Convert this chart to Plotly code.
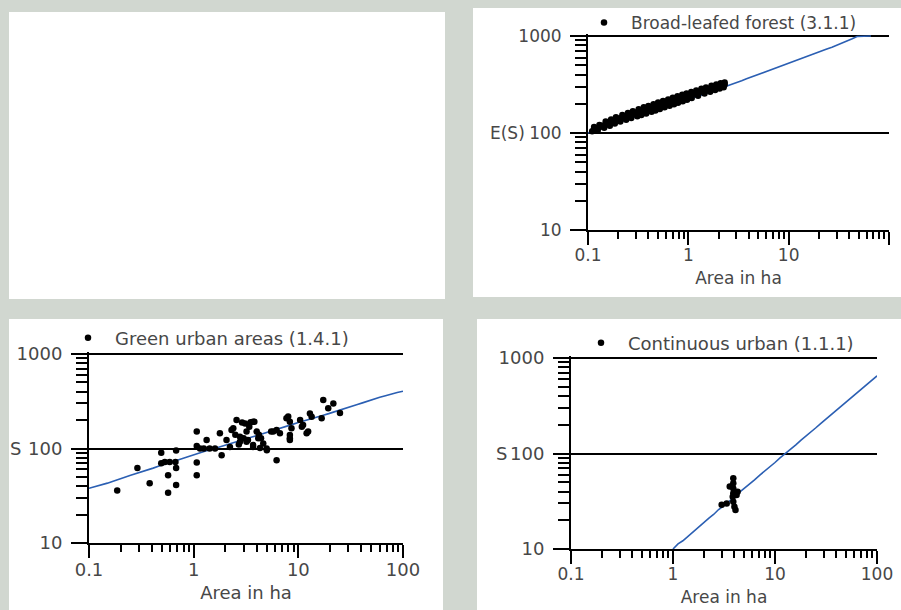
import plotly.graph_objects as go

# ---------------- data ----------------
x_tickvals = [0.1, 1, 10, 100]
x_ticktext = ["0.1", "1", "10", "100"]
y_tickvals = [10, 100, 1000]
y_ticktext = ["10", "100", "1000"]

forest_name = "Broad-leafed forest (3.1.1)"
forest_x = [0.11, 0.115, 0.12, 0.13, 0.135, 0.14, 0.15, 0.16, 0.17, 0.18, 0.19, 0.2,
            0.21, 0.22, 0.23, 0.24, 0.25, 0.26, 0.27, 0.28, 0.3, 0.32, 0.33, 0.35,
            0.37, 0.4, 0.42, 0.45, 0.48, 0.5, 0.53, 0.56, 0.6, 0.63, 0.66, 0.7,
            0.73, 0.77, 0.8, 0.85, 0.9, 0.95, 1.0, 1.05, 1.1, 1.15, 1.2, 1.3,
            1.4, 1.5, 1.6, 1.7, 1.8, 1.9, 2.0, 2.1, 2.2, 2.3,
            0.125, 0.145, 0.165, 0.185, 0.21, 0.24, 0.27, 0.31, 0.34, 0.38,
            0.43, 0.47, 0.52, 0.58, 0.65, 0.72, 0.79, 0.88, 0.97, 1.08, 1.25,
            1.45, 1.65, 1.85, 2.05, 2.25,
            0.115, 0.13, 0.15, 0.17, 0.19, 0.22, 0.25, 0.28, 0.32, 0.36, 0.4,
            0.45, 0.5, 0.56, 0.63, 0.7, 0.78, 0.87, 0.96, 1.07, 1.2, 1.35, 1.5,
            1.7, 1.9, 2.1, 2.3]
forest_y = [104, 110, 112, 115, 119, 118, 124, 127, 130, 133, 137, 139,
            142, 144, 147, 149, 152, 153, 156, 158, 162, 166, 165, 170,
            174, 178, 182, 186, 190, 193, 197, 200, 205, 208, 212, 216,
            219, 223, 226, 231, 235, 240, 244, 248, 252, 255, 258, 265,
            271, 277, 283, 288, 293, 298, 303, 307, 312, 316,
            106, 113, 119, 125, 131, 137, 143, 149, 153, 159,
            166, 171, 177, 184, 191, 198, 205, 213, 220, 229, 242,
            255, 267, 278, 288, 297,
            115, 121, 131, 138, 145, 153, 161, 168, 176, 184, 190,
            198, 206, 214, 222, 231, 239, 248, 256, 265, 275, 286, 295,
            307, 317, 326, 332]
forest_fit_x = [0.1, 0.11, 0.12, 0.135, 0.15, 0.17, 0.19, 0.21, 0.24, 0.27, 0.3, 0.34,
                0.38, 0.43, 0.48, 0.54, 0.6, 0.67, 0.75, 0.85, 0.95, 1.07, 1.2, 1.35,
                1.5, 1.7, 1.9, 2.15, 2.4, 2.7, 3.0, 3.4, 3.8, 4.3, 4.8, 5.4, 6.0, 6.7,
                7.5, 8.5, 9.5, 10.7, 12, 13.5, 15, 17, 19, 21.5, 24, 27, 30, 34, 38,
                43, 48, 55, 66]
forest_fit_y = [100, 103, 107, 111, 116, 121, 126, 130, 136, 141, 147, 153,
                160, 166, 173, 179, 186, 193, 200, 208, 217, 226, 236, 245,
                256, 267, 279, 291, 305, 317, 330, 346, 362, 380, 397, 414, 432, 450,
                470, 493, 515, 538, 563, 589, 615, 643, 672, 703, 735, 767, 800, 840, 880,
                935, 990, 1000, 1000]

green_name = "Green urban areas (1.4.1)"
green_x = [0.186, 0.29, 0.38, 0.49, 0.49, 0.53, 0.59, 0.67, 0.68, 0.57, 0.57, 0.68,
           0.68, 1.07, 1.07, 1.07, 1.07, 1.33, 1.15, 1.25, 1.42, 1.6, 1.85, 1.78,
           2.06, 2.3, 2.57, 2.77, 3.1, 3.3, 2.22, 2.39, 3.2, 3.7, 4.0, 3.7,
           4.14, 4.62, 4.98, 6.2, 5.76, 6.67, 7.7, 8.3, 8.6, 10.4, 11.1, 12.0,
           12.9, 13.4, 16.7, 17.3, 19.3, 21.6, 25.0, 8.0, 8.3, 10.8, 12.4, 8.3,
           8.3, 6.2, 5.5, 4.4, 3.8, 3.5, 2.9, 3.2, 3.0, 2.77, 3.7, 4.3,
           5.0, 2.5, 2.7, 3.4, 4.2]
green_y = [36, 62, 43, 90, 70, 72, 72, 72, 95, 52, 34, 41,
           62, 151, 106, 71, 52, 123, 100, 100, 100, 100, 85, 145,
           123, 157, 200, 133, 184, 123, 104, 164, 118, 192, 151, 104,
           128, 113, 100, 75, 151, 145, 209, 128, 164, 200, 177, 145,
           235, 217, 209, 326, 266, 300, 238, 218, 192, 170, 151, 139,
           123, 157, 151, 128, 192, 190, 188, 151, 128, 118, 109, 101,
           96, 140, 110, 170, 140]
green_fit_x = [0.1, 0.115, 0.13, 0.15, 0.17, 0.195, 0.22, 0.25, 0.28, 0.32, 0.36, 0.41,
               0.46, 0.53, 0.6, 0.68, 0.77, 0.88, 1.0, 1.15, 1.3, 1.5, 1.7, 1.95,
               2.2, 2.5, 2.8, 3.2, 3.6, 4.1, 4.6, 5.3, 6.0, 6.8, 7.7, 8.8, 10, 11.5,
               13, 15, 17, 19.5, 22, 25, 28, 32, 36, 41, 46, 53, 60, 68, 77, 88, 100]
green_fit_y = [38, 39.5, 41, 43, 45, 47, 49.5, 52, 54, 56.5, 59, 62,
               65, 68, 71, 74.5, 78, 82, 86, 90, 94, 98, 102, 106.5,
               111, 116, 121, 126, 132, 138, 144, 151, 158, 165, 172, 180, 188, 196,
               205, 214, 224, 234, 245, 255, 266, 278, 291, 304, 318, 333, 348, 362, 378, 391, 404]

urban_name = "Continuous urban (1.1.1)"
urban_x = [3.0, 3.9, 3.9, 3.9, 3.9, 3.85, 4.2, 4.3, 3.9, 4.0, 4.1, 3.36, 3.6]
urban_y = [29, 55, 48.7, 43, 38.3, 35.3, 36.8, 39.8, 31.3, 27.7, 25.6, 30, 45]
urban_fit_x = [1.0, 1.12, 1.25, 1.4, 1.6, 1.8, 2.0, 2.25, 2.5, 2.8, 3.2, 3.6, 4.0,
               4.5, 5.0, 5.6, 6.3, 7.1, 8.0, 9.0, 10, 11.2, 12.5, 14, 16, 18,
               20, 22.5, 25, 28, 32, 36, 40, 45, 50, 56, 63, 71, 80, 90, 100]
urban_fit_y = [10, 11.3, 12.2, 13.6, 15.3, 17.2, 18.8, 21.0, 23.0, 25.9, 28.7, 32.3, 35.1,
               39.4, 43.0, 48.1, 53.0, 59.4, 65.7, 73.2, 80.5, 90.0, 98.5, 110, 123, 138,
               151, 168, 185, 206, 232, 259, 283, 316, 346, 384, 423, 474, 527, 584, 650]

# ---------------- style ----------------
W, H = 901, 610
BG = "#d1d7d0"
TEXT = "#474747"
FONT = "DejaVu Sans"
BLUE = "#2b5fb3"
YTOP = 3.02  # a hair above 1000 so the 1000 grid line is kept


def px_x(p):
    return p / W


def px_y(p):
    return 1 - p / H


def top_px(y1000_px, y10_px):
    per_dec = (y10_px - y1000_px) / 2.0
    return y1000_px - (YTOP - 3) * per_dec


fig = go.Figure()

panels = [
    ("x", "y", "legend", forest_x, forest_y, forest_fit_x, forest_fit_y, forest_name),
    ("x2", "y2", "legend2", green_x, green_y, green_fit_x, green_fit_y, green_name),
    ("x3", "y3", "legend3", urban_x, urban_y, urban_fit_x, urban_fit_y, urban_name),
]
for xa, ya, lg, dx, dy, fx, fy, nm in panels:
    fig.add_trace(go.Scatter(x=fx, y=fy, mode="lines", line=dict(color=BLUE, width=1.6),
                             xaxis=xa, yaxis=ya, showlegend=False, hoverinfo="skip"))
    fig.add_trace(go.Scatter(x=dx, y=dy, mode="markers", name=nm,
                             marker=dict(color="black", size=6.5),
                             xaxis=xa, yaxis=ya, legend=lg, showlegend=True))


def xaxis_cfg(domain, anchor, fs):
    return dict(type="log", range=[-1, 2], domain=domain, anchor=anchor, automargin=False,
                showline=True, linecolor="black", linewidth=2,
                ticks="outside", ticklen=13, tickwidth=2, tickcolor="black",
                tickmode="array", tickvals=x_tickvals, ticktext=x_ticktext,
                showgrid=False, zeroline=False, ticklabelstandoff=-4,
                minor=dict(ticks="outside", ticklen=7, tickwidth=1.5, tickcolor="black",
                           dtick="D1", showgrid=False),
                tickfont=dict(family=FONT, size=fs, color=TEXT),
                title=dict(text="Area in ha", font=dict(family=FONT, size=fs, color=TEXT), standoff=8))


def yaxis_cfg(domain, anchor, fs):
    return dict(type="log", range=[1, YTOP], domain=domain, anchor=anchor, automargin=False,
                showline=True, linecolor="black", linewidth=2,
                ticks="outside", ticklen=16, tickwidth=2, tickcolor="black",
                tickmode="array", tickvals=y_tickvals, ticktext=y_ticktext,
                showgrid=True, gridcolor="black", gridwidth=2, zeroline=False,
                ticklabelstandoff=5,
                minor=dict(ticks="outside", ticklen=11, tickwidth=1.5, tickcolor="black",
                           dtick="D1", showgrid=False),
                tickfont=dict(family=FONT, size=fs, color=TEXT))


fig.update_layout(
    xaxis=xaxis_cfg([px_x(588), px_x(889)], "y", 17),
    yaxis=yaxis_cfg([px_y(230), px_y(top_px(36, 230))], "x", 17),
    xaxis2=xaxis_cfg([px_x(89), px_x(403)], "y2", 18),
    yaxis2=yaxis_cfg([px_y(543), px_y(top_px(354, 543))], "x2", 18),
    xaxis3=xaxis_cfg([px_x(571), px_x(877)], "y3", 17),
    yaxis3=yaxis_cfg([px_y(549), px_y(top_px(358, 549))], "x3", 18),
)

leg_common = dict(bgcolor="rgba(0,0,0,0)", borderwidth=0, itemwidth=44,
                  xanchor="left", yanchor="middle", itemclick=False)
fig.update_layout(
    legend=dict(x=px_x(577), y=px_y(23), font=dict(family=FONT, size=17, color=TEXT), **leg_common),
    legend2=dict(x=px_x(61), y=px_y(338), font=dict(family=FONT, size=18, color=TEXT), **leg_common),
    legend3=dict(x=px_x(574), y=px_y(343), font=dict(family=FONT, size=18, color=TEXT), **leg_common),
)

# white panels
panel_rects = [(9, 12, 445, 299), (473, 8, 901, 297), (9, 319, 443, 610), (477, 319, 901, 610)]
for x0, y0, x1, y1 in panel_rects:
    fig.add_shape(type="rect", xref="paper", yref="paper", x0=px_x(x0), x1=px_x(x1),
                  y0=px_y(y1), y1=px_y(y0), fillcolor="white", line=dict(width=0), layer="below")

# y-axis titles set beside the 100 tick label
fig.add_annotation(text="E(S)", xref="paper", yref="y", x=px_x(527), y=2, xanchor="right",
                   showarrow=False, font=dict(family=FONT, size=17, color=TEXT))
fig.add_annotation(text="S", xref="paper", yref="y2", x=px_x(23), y=2, xanchor="right",
                   showarrow=False, font=dict(family=FONT, size=18, color=TEXT))
fig.add_annotation(text="S", xref="paper", yref="y3", x=px_x(509), y=2, xanchor="right",
                   showarrow=False, font=dict(family=FONT, size=18, color=TEXT))

fig.update_layout(width=W, height=H, margin=dict(l=0, r=0, t=0, b=0, autoexpand=False),
                  paper_bgcolor=BG, plot_bgcolor="white", font=dict(family=FONT, color=TEXT),
                  hovermode=False)

fig.write_html("out.html", config={"displayModeBar": False},
               post_script="document.body.style.margin='0px';document.body.style.background='" + BG + "';")
